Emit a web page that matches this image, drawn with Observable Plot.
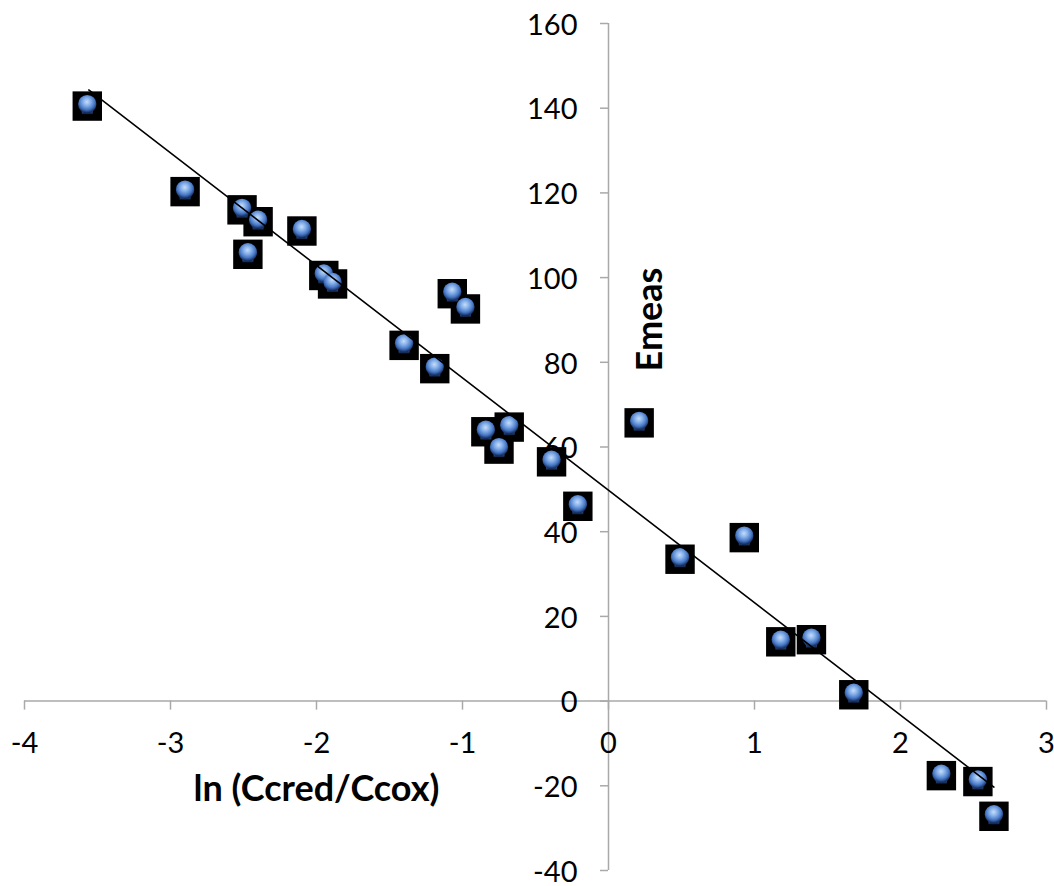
<!DOCTYPE html>
<html><head><meta charset="utf-8">
<script src="https://cdn.jsdelivr.net/npm/d3@7"></script>
<script src="https://cdn.jsdelivr.net/npm/@observablehq/plot@0.6"></script>
<style>body{margin:0;background:#fff}</style>
</head><body><div id="chart"></div>
<script>
const lnRatio = [-3.57, -2.90, -2.51, -2.40, -2.47, -2.10, -1.95, -1.89, -1.40, -1.19, -1.07, -0.98, -0.84, -0.68, -0.75, -0.39, -0.21, 0.21, 0.49, 0.93, 1.18, 1.39, 1.68, 2.28, 2.53, 2.64];
const emeas   = [140.5, 120.3, 116.0, 113.2, 105.5, 111.0, 100.5, 98.5, 84.0, 78.5, 96.2, 92.6, 63.6, 64.7, 59.5, 56.5, 46.0, 65.7, 33.5, 38.6, 14.0, 14.5, 1.5, -17.6, -19.0, -27.2];
const xTicks = [-4, -3, -2, -1, 0, 1, 2, 3];
const yTicks = [-40, -20, 0, 20, 40, 60, 80, 100, 120, 140, 160];
const trendX = [-3.56, 2.64];
const trendY = [144.3, -20.3];
const xTitle = "ln (Ccred/Ccox)";
const yTitle = "Emeas";

const points = lnRatio.map((x, i) => ({x, y: emeas[i]}));
const trend = trendX.map((x, i) => ({x, y: trendY[i]}));
const font = "Lato, 'Open Sans', sans-serif";
const axisColor = "#a9a9a9";

const chart = Plot.plot({
  width: 1054, height: 886,
  marginLeft: 24, marginRight: 8, marginTop: 23, marginBottom: 16,
  x: {domain: [-4, 3], axis: null},
  y: {domain: [-40, 160], axis: null},
  style: {fontFamily: font, background: "white", color: "black"},
  marks: [
    Plot.ruleY([0], {stroke: axisColor, strokeWidth: 1.5}),
    Plot.ruleX([0], {stroke: axisColor, strokeWidth: 1.5}),
    Plot.ruleX(xTicks, {x: d => d, y1: () => 0, y2: () => 0, insetBottom: -9, stroke: axisColor, strokeWidth: 1.5}),
    Plot.ruleY(yTicks, {y: d => d, x1: () => 0, x2: () => 0, insetLeft: -8, stroke: axisColor, strokeWidth: 1.5}),
    Plot.text(xTicks, {x: d => d, y: () => 0, dy: 43, text: d => String(d), fontSize: 29, fill: "black"}),
    Plot.text(yTicks, {x: () => 0, y: d => d, dx: -31, dy: 2, textAnchor: "end", text: d => String(d), fontSize: 29, fill: "black"}),
    Plot.text([yTitle], {frameAnchor: "top-left", dx: 650 - 24, dy: 319 - 23, rotate: -90, textAnchor: "middle", lineAnchor: "middle", fontWeight: "bold", fontSize: 36, fill: "black"}),
    Plot.text([xTitle], {frameAnchor: "top-left", dx: 316 - 24, dy: 789 - 23, textAnchor: "middle", lineAnchor: "middle", fontWeight: "bold", fontSize: 36, fill: "black"}),
    Plot.dot(points, {x: "x", y: "y", symbol: "square", r: 16.6, fill: "black", stroke: "none"}),
    Plot.dot(points, {x: "x", y: "y", symbol: "square", r: 3.4, dy: 5, dx: -2.5, fill: "url(#stemGrad)", stroke: "none"}),
    Plot.dot(points, {x: "x", y: "y", symbol: "square", r: 3.4, dy: 5, dx: 2.5, fill: "url(#stemGrad)", stroke: "none"}),
    Plot.dot(points, {x: "x", y: "y", r: 9.2, dy: -2, fill: "url(#bulbGrad)", stroke: "none"}),
    Plot.line(trend, {x: "x", y: "y", stroke: "black", strokeWidth: 1.6})
  ]
});

const svg = d3.select(chart);
const defs = svg.insert("defs", ":first-child");
const rg = defs.append("radialGradient").attr("id", "bulbGrad").attr("cx", "48%").attr("cy", "38%").attr("r", "60%");
rg.append("stop").attr("offset", "0%").attr("stop-color", "#c6ddf8");
rg.append("stop").attr("offset", "35%").attr("stop-color", "#86b0ea");
rg.append("stop").attr("offset", "70%").attr("stop-color", "#4777c4");
rg.append("stop").attr("offset", "100%").attr("stop-color", "#10285a");
const lg = defs.append("linearGradient").attr("id", "stemGrad").attr("x1", 0).attr("y1", 0).attr("x2", 0).attr("y2", 1);
lg.append("stop").attr("offset", "0%").attr("stop-color", "#5f92d8");
lg.append("stop").attr("offset", "100%").attr("stop-color", "#0b1d40");

document.getElementById("chart").appendChild(chart);
</script>
</body></html>
